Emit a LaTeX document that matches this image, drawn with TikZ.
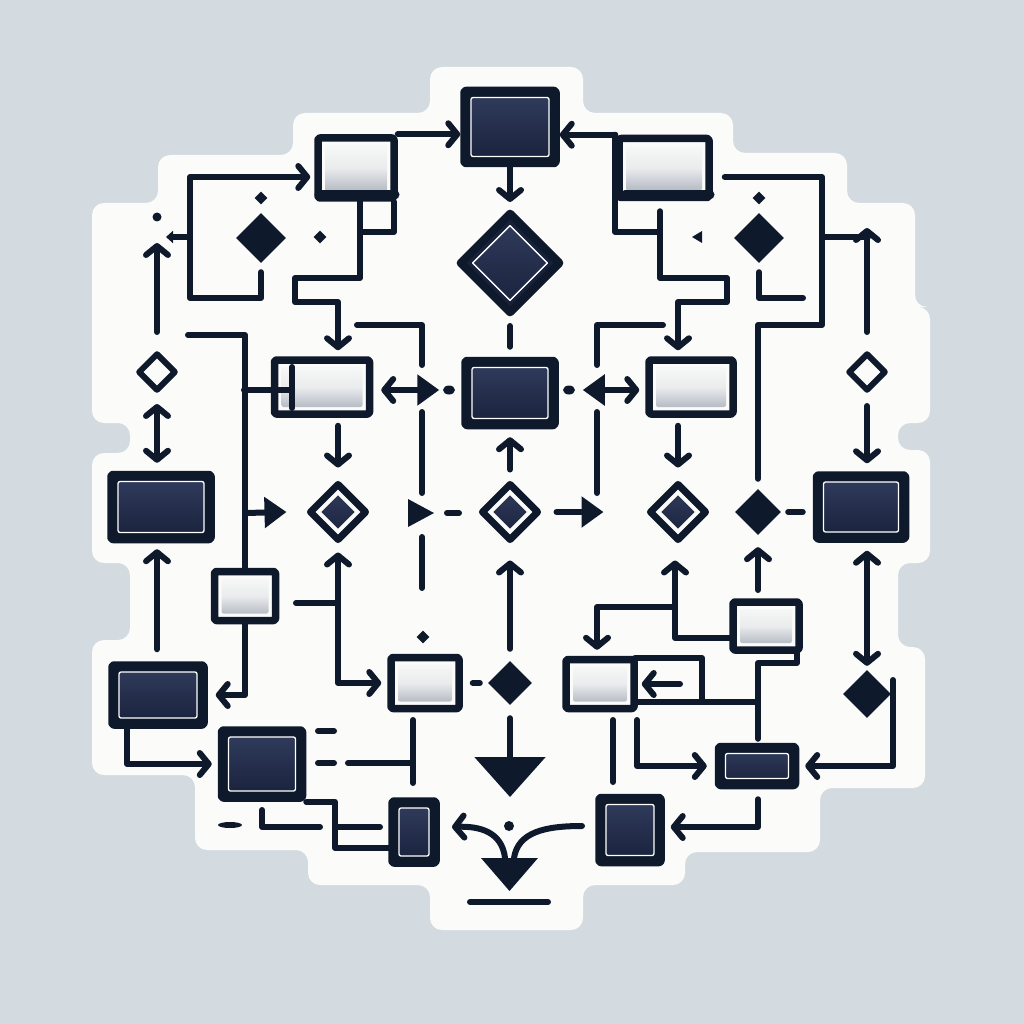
\documentclass[tikz,border=0pt]{standalone}
\usetikzlibrary{positioning,arrows.meta,calc,shapes.geometric}
\definecolor{ink}{HTML}{0F192C}
\definecolor{paper}{HTML}{FBFCFA}
\definecolor{backdrop}{HTML}{D3DAE0}
\definecolor{dottop}{HTML}{323D5E}
\definecolor{dotbot}{HTML}{18213B}
\definecolor{dotlight}{HTML}{A4ABB7}
\tikzset{
  fig/.style={line cap=round, line join=round},
  wire/.style={draw=ink, line width=6pt},
  ln/.style={wire, -{Straight Barb[length=9pt,width=22pt,round]}},
  lnb/.style={wire, {Straight Barb[length=9pt,width=22pt,round]}-{Straight Barb[length=9pt,width=22pt,round]}},
  tri/.style={wire, -{Triangle[length=22pt,width=30pt]}},
  darkbox/.style={draw=ink, line width=7.5pt, fill=ink, inner sep=0pt, rounded corners=2pt,
    path picture={\shadedraw[draw=white, line width=1.3pt, top color=dottop, bottom color=dotbot]
      ($(path picture bounding box.south west)+(7pt,7pt)$) rectangle
      ($(path picture bounding box.north east)+(-7pt,-7pt)$);}},
  lightbox/.style={draw=ink, line width=7.5pt, fill=paper, inner sep=0pt, rounded corners=2pt,
    path picture={\shade[top color=paper, bottom color=dotlight, middle color=paper!80!dotlight]
      ($(path picture bounding box.south west)+(7pt,7pt)$) rectangle
      ($(path picture bounding box.north east)+(-7pt,-7pt)$);}},
  bigdia/.style={diamond, draw=ink, line width=8pt, fill=dotbot, inner sep=0pt,
    path picture={\shadedraw[draw=white, line width=1.3pt, top color=dottop, bottom color=dotbot]
      ($(path picture bounding box.north)+(0,-12pt)$) -- ($(path picture bounding box.east)+(-12pt,0)$) --
      ($(path picture bounding box.south)+(0,12pt)$) -- ($(path picture bounding box.west)+(12pt,0)$) -- cycle;}},
  dotdia/.style={diamond, draw=ink, line width=7pt, fill=paper, inner sep=0pt,
    path picture={\shade[top color=dottop, bottom color=dotbot]
      ($(path picture bounding box.north)+(0,-11pt)$) -- ($(path picture bounding box.east)+(-11pt,0)$) --
      ($(path picture bounding box.south)+(0,11pt)$) -- ($(path picture bounding box.west)+(11pt,0)$) -- cycle;}},
  soliddia/.style={diamond, fill=ink, inner sep=0pt},
  hollowdia/.style={diamond, draw=ink, line width=6pt, fill=paper, inner sep=0pt},
}
\begin{document}
\begin{tikzpicture}[fig, x=1pt, y=-1pt]
\useasboundingbox (0,0) rectangle (1024,1024);
\fill[backdrop] (0,0) rectangle (1024,1024);
% sticker
\fill[paper, rounded corners=12pt] (430,67) -- (583,67) -- (583,113) -- (733,113) -- (733,153)
  -- (847,153) -- (847,203) -- (915,203) -- (915,307) -- (930,307) -- (930,423) -- (898,423)
  -- (898,450) -- (930,450) -- (930,563) -- (898,563) -- (898,647) -- (925,647) -- (925,788)
  -- (820,788) -- (820,852) -- (685,852) -- (685,885) -- (583,885) -- (583,930) -- (430,930)
  -- (430,885) -- (308,885) -- (308,850) -- (195,850) -- (195,775) -- (92,775) -- (92,640)
  -- (130,640) -- (130,563) -- (92,563) -- (92,453) -- (130,453) -- (130,423) -- (92,423)
  -- (92,203) -- (158,203) -- (158,155) -- (293,155) -- (293,113) -- (430,113) -- cycle;
\coordinate (row) at (0,390);

% dark boxes
\node[darkbox, minimum width=92pt, minimum height=73pt] (top) at (510,127) {};
\node[darkbox, minimum width=90pt, minimum height=65pt] (mid) at (510,393) {};
\node[darkbox, minimum width=100pt, minimum height=65pt] (lb) at (161,507) {};
\node[darkbox, minimum width=89pt, minimum height=64pt] (rb) at (861,507) {};
\node[darkbox, minimum width=92pt, minimum height=60pt] (llb) at (158,695) {};
\node[darkbox, minimum width=81pt, minimum height=68pt] (lowb) at (262,764) {};
\node[darkbox, minimum width=44pt, minimum height=62pt] (tall) at (414,832) {};
\node[darkbox, minimum width=62pt, minimum height=65pt] (sq) at (630,830) {};
\node[darkbox, minimum width=77pt, minimum height=39pt] (fb) at (757,766) {};

% light boxes
\node[lightbox, minimum width=76pt, minimum height=60pt] (tl) at (356,168) {};
\node[lightbox, minimum width=90pt, minimum height=59pt] (tr) at (664,168) {};
\node[lightbox, minimum width=95pt, minimum height=54pt] (ml) at (322,387) {};
\node[lightbox, minimum width=84pt, minimum height=54pt] (mr) at (691,387) {};
\node[lightbox, minimum width=61pt, minimum height=49pt] (sb) at (245,596) {};
\node[lightbox, minimum width=68pt, minimum height=51pt] (cb) at (425,683) {};
\node[lightbox, minimum width=66pt, minimum height=48pt] (rl) at (766,626) {};
\node[lightbox, minimum width=68pt, minimum height=49pt] (sp) at (600,684) {};
\draw[ink, line width=9pt] (319,195) -- (395,195);
\draw[ink, line width=9pt] (625,195) -- (710,195);

% diamonds
\node[bigdia, minimum size=102pt] (dec) at (510,263) {};
\node[dotdia, minimum size=58pt] (da) at (338,512) {};
\node[dotdia, minimum size=58pt] (db) at (510,512) {};
\node[dotdia, minimum size=58pt] (dc) at (678,512) {};
\node[soliddia, minimum size=50pt] (ka) at (261,238) {};
\node[soliddia, minimum size=50pt] (kb) at (759,238) {};
\node[soliddia, minimum size=46pt] (kc) at (758,512) {};
\node[soliddia, minimum size=44pt] (kd) at (510,683) {};
\node[soliddia, minimum size=48pt] (ke) at (867,694) {};
\node[soliddia, minimum size=13pt] (ta) at (261,198) {};
\node[soliddia, minimum size=13pt] (tb) at (320,237) {};
\node[soliddia, minimum size=13pt] (tc) at (759,198) {};
\node[soliddia, minimum size=13pt] (td) at (423,637) {};
\node[hollowdia, minimum size=38pt] (ha) at (157,372) {};
\node[hollowdia, minimum size=38pt] (hb) at (867,372) {};

% top row links
\draw[ln] (tl.north east) -- (tl.north east -| top.west);
\draw[ln] (tr.north west) -- (tr.north west -| top.east);
\draw[ln] (top.south) -- ([yshift=6pt]dec.north);
\draw[ln] ([yshift=-9pt]ka.south) |- (190,298) |- ([xshift=-4pt,yshift=-9pt]tl.west);
\draw[wire, -{Triangle[length=7pt,width=12pt]}] (190,237) -- (166,237);
\fill[ink] (157,217) circle (4.5pt);
\draw[ln] ([yshift=18pt]ha.north) -- (157,243);
\draw[wire] ([xshift=-4pt]tl.south east) |- (360,232);
\draw[ln] ([xshift=4pt]tl.south) |- (295,278) |- (338,302) -- ([xshift=16pt,yshift=6pt]ml.north);
\draw[wire] (tr.north west) |- (658,232);
\draw[ln] ([xshift=-4pt,yshift=-10pt]tr.south) |- (727,278) |- (678,302) -- ([xshift=-13pt,yshift=6pt]mr.north);
\draw[wire] ([xshift=12pt,yshift=-9pt]tr.east) -| (822,325) -| ([yshift=10pt]kc.north);
\draw[wire] (822,237) -- (868,237);
\draw[ln] ([yshift=18pt]hb.north) -- (867,228);
\fill[ink] (692,237) -- (702,231) -- (702,243) -- cycle;
\draw[wire] ([yshift=-9pt]kb.south) |- (803,298);
\draw[wire] (357,325) -| (422,365);
\draw[wire] (663,325) -| (597,365);
\draw[wire] ([yshift=-8pt]dec.south) -- ([yshift=10pt]mid.north);

% middle row
\draw[wire] (244,390) -- (292,390);
\draw[wire] (292,367) -- (292,408);
\draw[wire, {Straight Barb[length=9pt,width=22pt,round]}-{Triangle[length=22pt,width=30pt]}] ([xshift=8pt]ml.east |- row) -- ([xshift=-22pt]mid.west |- row);
\fill[ink] (449,390) ellipse (6pt and 4.5pt);
\fill[ink] (569,390) ellipse (6pt and 4.5pt);
\draw[wire, {Triangle[length=22pt,width=30pt]}-{Straight Barb[length=9pt,width=22pt,round]}] ([xshift=24pt]mid.east |- row) -- ([xshift=-6pt]mr.west |- row);

% third row
\draw[lnb] ([yshift=-10pt]ha.south) -- ([yshift=8pt]ha.south |- lb.north);
\draw[ln] ([yshift=12pt]ha.south |- llb.north) -- ([yshift=-6pt]ha.south |- lb.south);
\draw[wire] (188,335) -| (sb.north);
\draw[tri] (245,513) -- ([xshift=-19pt]da.west);
\draw[ln] ([xshift=16pt,yshift=-8pt]ml.south) -- ([yshift=12pt]da.north);
\draw[wire] (422,412) -- (422,493);
\draw[wire] (422,537) -- (422,588);
\fill[ink] (408,499) -- (434,513) -- (408,527) -- cycle;
\draw[wire] (447,513) -- (459,513);
\draw[ln] ([yshift=10pt]db.north) -- ([yshift=-8pt]mid.south);
\draw[ln] ([yshift=12pt]kd.north) -- ([yshift=-16pt]db.south);
\draw[tri] ([xshift=14pt]db.east) -- ([xshift=-42pt]dc.west);
\draw[wire] (597,412) -- (597,493);
\draw[ln] ([xshift=-13pt,yshift=-8pt]mr.south) -- ([yshift=12pt]dc.north);
\draw[wire] ([xshift=7pt]kc.east) -- ([xshift=-10pt]kc.east -| rb.west);
\draw[ln] ([yshift=-12pt]hb.south) -- ([yshift=8pt]hb.south |- rb.north);
\draw[ln] (758,590) -- ([yshift=-12pt]kc.south);
\draw[lnb] ([yshift=-8pt]ke.north |- rb.south) -- ([yshift=4pt]ke.north);
\draw[ln] (893,680) |- ([xshift=6pt]fb.east);

% lower part
\draw[ln] (sb.south) |- ([xshift=8pt]llb.east);
\draw[wire] (296,603) -- (338,603);
\draw[lnb] ([yshift=-8pt]da.south) |- ([xshift=-6pt]cb.west);
\draw[wire] ([xshift=10pt]cb.east) -- ([xshift=-8pt]kd.west);
\draw[wire] (635,658) -| (702,702);
\draw[wire] (635,702) -- (758,702);
\draw[ln] (680,684) -- ([xshift=4pt]sp.east);
\draw[ln] ([yshift=-12pt]rl.west) -| ([xshift=-3pt,yshift=-16pt]dc.south);
\draw[ln] (675,607) -| ([xshift=-3pt,yshift=6pt]sp.north);
\draw[wire] ([xshift=-6pt]rl.south east) |- (758,663) -- ([xshift=1pt,yshift=4pt]fb.north);
\draw[wire] (613,720) -- (613,782);
\draw[ln] (637,720) |- ([xshift=-8pt]fb.west);
\draw[ln] ([xshift=1pt,yshift=-10pt]fb.south) |- ([xshift=6pt,yshift=3pt]sq.east);
\draw[wire, -{Triangle[length=40pt,width=70pt]}] ([yshift=-13pt]kd.south) -- (510,797);
\fill[ink] (509,826) circle (5pt);
\draw[ln] (505,858) .. controls (502,832) and (480,826) .. (452,827);
\draw[wire] (514,858) .. controls (518,832) and (545,826) .. (582,826);
\fill[ink] (481,858) -- (538,858) -- (509.5,891) -- cycle;
\draw[wire] (470,902) -- (548,902);
\draw[ln] ([xshift=-31pt]llb.south) |- ([xshift=-6pt]lowb.west);
\draw[wire] (318,731) -- (334,731);
\draw[wire] (318,763) -- (334,763);
\draw[wire] (348,763) -- (413,763);
\draw[wire] (413,720) -- (413,783);
\fill[ink] (230,825) ellipse (12pt and 3pt);
\draw[wire] (262,810) |- (320,827);
\draw[wire] (337,827) -- (380,827);
\draw[wire] (lowb.south east) -| (335,848) -- ([yshift=-16pt]tall.west);
\end{tikzpicture}
\end{document}
